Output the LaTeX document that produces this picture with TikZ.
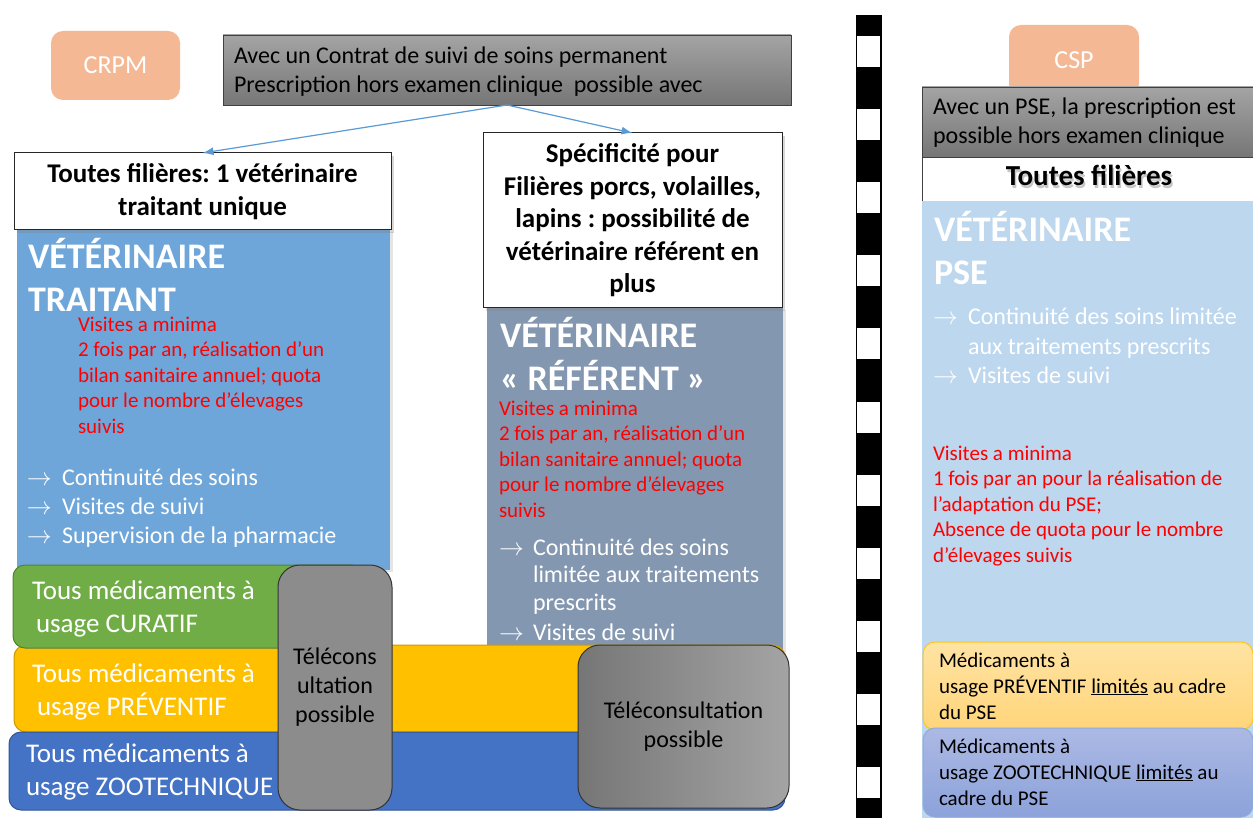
\documentclass[tikz,border=0pt]{standalone}
\usepackage{fontspec}
\setmainfont{Carlito}
\frenchspacing
\usetikzlibrary{arrows.meta,shadows}

\definecolor{peach}{RGB}{244,185,148}
\definecolor{boxgrayA}{RGB}{164,164,164}
\definecolor{boxgrayB}{RGB}{118,118,118}
\definecolor{vetblue}{RGB}{110,166,218}
\definecolor{refblue}{RGB}{132,151,176}
\definecolor{pseblue}{RGB}{189,215,238}
\definecolor{curgreen}{RGB}{112,173,71}
\definecolor{prevyellow}{RGB}{255,192,0}
\definecolor{zooblue}{RGB}{68,114,196}
\definecolor{linkblue}{RGB}{91,155,213}
\definecolor{lightyelA}{RGB}{255,227,163}
\definecolor{lightyelB}{RGB}{255,213,122}
\definecolor{lightbluA}{RGB}{172,185,228}
\definecolor{lightbluB}{RGB}{140,162,218}

\begin{document}
\begin{tikzpicture}[x=1pt,y=-1pt,>={Latex[length=11pt,width=8pt]},
	every node/.style={inner sep=0pt,outer sep=0pt},
	tagbox/.style={rounded corners=12pt,fill=peach,text=white,font=\fontsize{26}{31}\selectfont,anchor=north west},
	graybox/.style={draw=black!75,top color=boxgrayA,bottom color=boxgrayB,anchor=north west},
	whitebox/.style={draw=black!85,line width=1pt,fill=white,anchor=north west,align=center,font=\bfseries\fontsize{27}{32.5}\selectfont,drop shadow={opacity=0.3,shadow xshift=3pt,shadow yshift=-3pt}},
	vetbox/.style={anchor=north west,drop shadow={opacity=0.2,shadow xshift=3pt,shadow yshift=-2pt}},
	medbox/.style={rounded corners=12pt,anchor=north west,line width=1pt},
	telebox/.style={rounded corners=22pt,draw=black!80,line width=1pt,align=center,font=\fontsize{24}{29}\selectfont,anchor=north west},
	txt/.style={anchor=base west,align=left,font=\fontsize{24}{29}\selectfont},
	titletxt/.style={txt,text=white,font=\bfseries\fontsize{36}{43}\selectfont},
	redtxt/.style={txt,text=red,font=\fontsize{21}{25.5}\selectfont},
	medtxt/.style={txt,text=white,font=\fontsize{27}{33}\selectfont},
	smalltxt/.style={txt,text=black,font=\fontsize{21}{26}\selectfont},
	arrowtxt/.style={anchor=base west,text=white,font=\fontsize{27}{30}\selectfont},
	link/.style={->,draw=linkblue,line width=1.2pt}]

	\clip (0,0) rectangle (1253,818);
	\fill[white] (0,0) rectangle (1253,818);

	% CRPM side (text nodes sit on the baseline of their last line)
	\node[tagbox,minimum width=129,minimum height=69] (crpm) at (51,31) {CRPM};
	\node[graybox,minimum width=568,minimum height=70] (contrat) at (223,35) {};
	\node[txt] (contrattxt) at (234,93) {Avec un Contrat de suivi de soins permanent\\Prescription hors examen clinique\ \ possible avec};

	\node[vetbox,fill=vetblue,minimum width=373,minimum height=340] (traitant) at (17,230) {};
	\node[vetbox,fill=refblue,minimum width=296,minimum height=345] (referent) at (487,308) {};

	\node[whitebox,minimum width=377,minimum height=77] (unique) at (14,153) {Toutes filières: 1 vétérinaire\\traitant unique};
	\node[whitebox,minimum width=299,minimum height=175] (specif) at (483,133) {Spécificité pour\\Filières porcs, volailles,\\lapins : possibilité de\\vétérinaire référent en\\plus};

	\draw[link] (contrat.south) -- (unique.north);
	\draw[link] (contrat.south) -- (specif.north);

	\node[titletxt] (traitanttitle) at (28,312) {VÉTÉRINAIRE\\TRAITANT};
	\node[redtxt] (traitantred) at (78,433) {Visites a minima\\2 fois par an, réalisation d’un\\bilan sanitaire annuel; quota\\pour le nombre d’élevages\\suivis};
	\foreach \yy in {485,514,543}
		\node[arrowtxt] (arrT\yy) at (27,\yy) {$\rightarrow$};
	\node[txt,text=white] (traitantlist) at (62,543) {Continuité des soins\\Visites de suivi\\Supervision de la pharmacie};

	\node[titletxt] (referenttitle) at (500,390) {VÉTÉRINAIRE\\« RÉFÉRENT »};
	\node[redtxt] (referentred) at (499,517) {Visites a minima\\2 fois par an, réalisation d’un\\bilan sanitaire annuel; quota\\pour le nombre d’élevages\\suivis};
	\foreach \yy in {555,640}
		\node[arrowtxt] (arrR\yy) at (499,\yy) {$\rightarrow$};
	\node[txt,text=white,font=\fontsize{24}{27.5}\selectfont] (referentlist) at (533,610) {Continuité des soins\\limitée aux traitements\\prescrits};
	\node[txt,text=white] (referentsuivi) at (533,640) {Visites de suivi};

	% medicaments
	\node[medbox,fill=prevyellow,draw=prevyellow!80!black,minimum width=771,minimum height=87] (preventif) at (14,645) {};
	\node[medtxt] (preventiftxt) at (32,715) {Tous médicaments à\\\hspace{5pt}usage PRÉVENTIF};
	\node[medbox,fill=curgreen,draw=curgreen!75!black,minimum width=350,minimum height=83] (curatif) at (13,565) {};
	\node[medtxt] (curatiftxt) at (32,632) {Tous médicaments à\\\hspace{4pt}usage CURATIF};
	\node[medbox,fill=zooblue,draw=zooblue!75!black,minimum width=776,minimum height=78] (zootech) at (9,732) {};
	\node[medtxt] (zootechtxt) at (26,795) {Tous médicaments à\\usage ZOOTECHNIQUE};

	\node[telebox,fill=black!45,minimum width=114,minimum height=245] (teleA) at (278,565) {Télécons\\ultation\\possible};
	\node[telebox,left color=boxgrayB,right color=boxgrayA,minimum width=211,minimum height=163] (teleB) at (578,645) {Téléconsultation\\possible};

	% separation
	\fill[black] (856,15) rectangle (882,818);
	\foreach \k in {0,...,10}
		\fill[white] (857,{36+73.1*\k}) rectangle (880,{67+73.1*\k});

	% CSP side
	\node[tagbox,minimum width=130,minimum height=71] (csp) at (1009,25) {CSP};
	\node[graybox,minimum width=340,minimum height=70] (pse) at (922,87) {};
	\node[txt] (psetxt) at (933,144) {Avec un PSE, la prescription est\\possible hors examen clinique};
	\node[draw=black!75,fill=white,anchor=north west,minimum width=340,minimum height=44] (toutes) at (922,157) {};
	\node[anchor=base,font=\bfseries\fontsize{29}{34}\selectfont,text=black!22] (toutesombre) at (1090.5,188.5) {Toutes filières};
	\node[anchor=base,font=\bfseries\fontsize{29}{34}\selectfont] (toutestxt) at (1089,186) {Toutes filières};
	\node[anchor=north west,fill=pseblue,minimum width=340,minimum height=620] (veto) at (922,201) {};

	\node[titletxt] (vetotitle) at (934,285) {VÉTÉRINAIRE\\PSE};
	\foreach \yy in {325,383}
		\node[arrowtxt] (arrP\yy) at (933,\yy) {$\rightarrow$};
	\node[txt,text=white,font=\fontsize{24}{30}\selectfont] (vetolist) at (968,355) {Continuité des soins limitée\\aux traitements prescrits};
	\node[txt,text=white] (vetosuivi) at (968,383) {Visites de suivi};
	\node[redtxt] (vetored) at (933,562) {Visites a minima\\1 fois par an pour la réalisation de\\l’adaptation du PSE;\\Absence de quota pour le nombre\\d’élevages suivis};

	\node[medbox,top color=lightyelA,bottom color=lightyelB,draw=prevyellow!90!white,minimum width=330,minimum height=88] (limprev) at (923,642) {};
	\node[smalltxt] (limprevtxt) at (939,719) {Médicaments à\\usage PRÉVENTIF \underline{limités} au cadre\\du PSE};
	\node[medbox,top color=lightbluA,bottom color=lightbluB,draw=zooblue!60,minimum width=330,minimum height=89] (limzoo) at (923,728) {};
	\node[smalltxt] (limzootxt) at (939,805) {Médicaments à\\usage ZOOTECHNIQUE \underline{limités} au\\cadre du PSE};

\end{tikzpicture}
\end{document}
